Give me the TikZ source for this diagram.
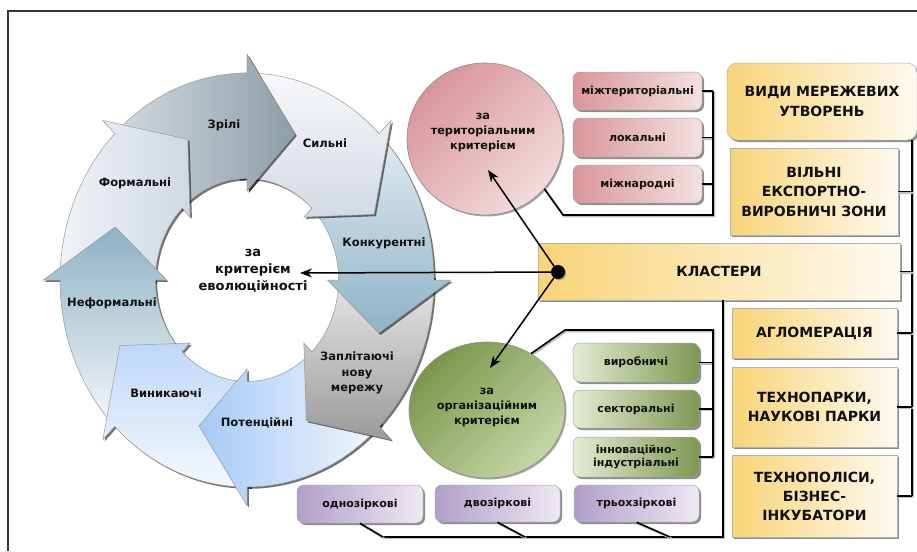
\documentclass[tikz,border=0pt]{standalone}
\usepackage{fontspec}
\setmainfont{DejaVu Sans}
\usetikzlibrary{shadows,arrows.meta,calc,shapes.geometric}
\definecolor{pinkD}{HTML}{D9969A}
\definecolor{pinkL}{HTML}{F4E0E0}
\definecolor{grnD}{HTML}{7E9752}
\definecolor{grnL}{HTML}{E4ECD3}
\definecolor{purD}{HTML}{B29EC8}
\definecolor{purL}{HTML}{EDE9F3}
\definecolor{yelD}{HTML}{F8D478}
\definecolor{yelL}{HTML}{FEFAF0}
\definecolor{txt}{HTML}{111111}
\definecolor{zriA}{HTML}{D3DAE0}
\definecolor{zriB}{HTML}{8D9EA8}
\definecolor{sylA}{HTML}{F7F8FA}
\definecolor{sylB}{HTML}{D3DAE4}
\definecolor{konA}{HTML}{E3EDF3}
\definecolor{konB}{HTML}{8FB2C6}
\definecolor{zapA}{HTML}{E8E8E8}
\definecolor{zapB}{HTML}{9A9A9A}
\definecolor{potA}{HTML}{A6CAF5}
\definecolor{potB}{HTML}{F3F8FE}
\definecolor{vynA}{HTML}{BED8F8}
\definecolor{vynB}{HTML}{F4F8FD}
\definecolor{nefA}{HTML}{8EB2C5}
\definecolor{nefB}{HTML}{F6F8FA}
\definecolor{forA}{HTML}{F0F3F7}
\definecolor{forB}{HTML}{D0D8E3}
\definecolor{terD}{HTML}{D8959A}
\definecolor{terL}{HTML}{F3DCDD}
\definecolor{orgD}{HTML}{7B974C}
\definecolor{orgL}{HTML}{C5D6A6}
\tikzset{
  boxshadow/.style={drop shadow={shadow xshift=2pt,shadow yshift=-2pt,fill=black!75,opacity=.6}},
  smallbox/.style={draw=black!35, line width=0.5pt, rounded corners=7pt, minimum width=#1, inner sep=1pt, align=center, boxshadow, font=\bfseries\fontsize{11}{13.5}\selectfont, text=txt},
  pinkbox/.style={smallbox=129pt, minimum height=38pt, left color=pinkD, right color=pinkL},
  grnbox/.style={smallbox=126pt, minimum height=38pt, left color=grnL, right color=grnD},
  purbox/.style={smallbox=125pt, minimum height=37pt, left color=purD, right color=purL},
  yelbox/.style={draw=black!30, line width=0.5pt, left color=yelD, right color=yelL, boxshadow, align=center, inner sep=0pt, font=\bfseries\fontsize{14}{19.5}\selectfont, text=txt},
  cyclbl/.style={font=\bfseries\fontsize{11.5}{15.5}\selectfont, text=txt, align=center, inner sep=0pt},
  ctext/.style={font=\bfseries\fontsize{11.3}{15}\selectfont, text=txt, align=center, inner sep=0pt},
  critc/.style={ellipse, draw=black!45, line width=0.6pt, inner sep=0pt, drop shadow={shadow xshift=1.5pt,shadow yshift=-1.5pt,fill=black!70,opacity=.5}},
  cyc/.style={draw=black!40, line width=0.5pt, drop shadow={shadow xshift=1.8pt,shadow yshift=-1.8pt,fill=black,opacity=.55}},
  conn/.style={draw=black, line width=1.6pt, preaction={draw=black!25, line width=2.2pt, transform canvas={xshift=1.2pt,yshift=-1.2pt}}},
  arr/.style={draw=black, line width=1.5pt, -{Stealth[length=12pt,width=9pt]}}
}
\newcommand\cycarrow[2]{%
  \pgfmathsetmacro\cycS{#1+46}%
  \pgfmathsetmacro\cycT{#1-20}%
  \path[#2] plot[domain=\cycS:#1,samples=30] ({247+187*cos(\x)},{280-207*sin(\x)})
    -- ({247+1.09*187*cos(#1)},{280-1.09*207*sin(#1)})
    -- ({247+0.75*187*cos(\cycT)},{280-0.75*207*sin(\cycT)})
    -- ({247+0.43*187*cos(#1)},{280-0.43*207*sin(#1)})
    -- plot[domain=#1:\cycS,samples=30] ({247+0.49*187*cos(\x)},{280-0.49*207*sin(\x)})
    -- cycle;}
\begin{document}
\begin{tikzpicture}[x=1pt,y=-1pt]
\useasboundingbox (0,0) rectangle (917,551);
\fill[white] (0,0) rectangle (917,551);
% frame
\draw[line width=1.4pt, black!80] (8,551) -- (8,11) -- (917,11);

% cycle of arrows
\cycarrow{90}{cyc, left color=zriA, right color=zriB}
\cycarrow{135}{cyc, left color=forA, right color=forB}
\cycarrow{180}{cyc, top color=nefA, bottom color=nefB}
\cycarrow{-135}{cyc, top color=vynA, bottom color=vynB}
\cycarrow{-90}{cyc, left color=potA, right color=potB}
\cycarrow{-45}{cyc, top color=zapA, bottom color=zapB}
\cycarrow{0}{cyc, top color=konA, bottom color=konB}
\cycarrow{45}{cyc, top color=sylA, bottom color=sylB}
\begin{scope}
  \clip (240,0) rectangle (330,300);
  \cycarrow{90}{cyc, left color=zriA, right color=zriB}
\end{scope}

% cycle labels
\node[cyclbl] (lzr) at (224,125) {Зрілі};
\node[cyclbl] (lsy) at (325,143) {Сильні};
\node[cyclbl] (lfo) at (135,183) {Формальні};
\node[cyclbl] (lko) at (384,243) {Конкурентні};
\node[cyclbl] (lne) at (112,303) {Неформальні};
\node[cyclbl] (lza) at (357,373) {Заплітаючі\\нову\\мережу};
\node[cyclbl] (lvy) at (166,393) {Виникаючі};
\node[cyclbl] (lpo) at (257,423) {Потенційні};
\node[font=\bfseries\fontsize{13}{17}\selectfont, text=txt, align=center, inner sep=0pt] (crit) at (253,271) {за\\критерієм\\еволюційності};

% criterion circles
\node[critc, minimum width=156pt, minimum height=152pt, top color=terD, bottom color=terL, shading angle=45] (terr) at (485,139) {};
\node[ctext] (terrt) at (483,133) {за\\територіальним\\критерієм};
\node[critc, minimum width=156pt, minimum height=136pt, top color=orgD, bottom color=orgL, shading angle=45] (org) at (487,410) {};
\node[ctext] (orgt) at (487,408) {за\\організаційним\\критерієм};

% pink boxes
\node[pinkbox] (p1) at (637.5,91) {міжтериторіальні};
\node[pinkbox, minimum height=39pt] (p2) at (637.5,137.5) {локальні};
\node[pinkbox] (p3) at (637.5,184) {міжнародні};
% green boxes
\node[grnbox, minimum height=39pt] (g1) at (636,362.5) {виробничі};
\node[grnbox] (g2) at (636,409) {секторальні};
\node[grnbox, minimum height=40pt] (g3) at (636,457) {інноваційно-\\індустріальні};
% purple boxes
\node[purbox, minimum width=126pt, minimum height=38pt] (s1) at (360,504) {однозіркові};
\node[purbox] (s2) at (497.5,503.5) {двозіркові};
\node[purbox] (s3) at (636.5,503.5) {трьохзіркові};

% yellow boxes
\node[yelbox, rounded corners=10pt, minimum width=190pt, minimum height=77pt] (y1) at (822,101.5) {ВИДИ МЕРЕЖЕВИХ\\УТВОРЕНЬ};
\node[yelbox, minimum width=168pt, minimum height=87pt] (y2) at (814,191.5) {ВІЛЬНІ\\ЕКСПОРТНО-\\ВИРОБНИЧІ ЗОНИ};
\node[yelbox, minimum width=362pt, minimum height=57pt] (kl) at (719,271.5) {КЛАСТЕРИ};
\node[yelbox, minimum width=165pt, minimum height=50pt] (y3) at (814.5,333) {АГЛОМЕРАЦІЯ};
\node[yelbox, minimum width=165pt, minimum height=80pt] (y4) at (814.5,407) {ТЕХНОПАРКИ,\\НАУКОВІ ПАРКИ};
\node[yelbox, minimum width=165pt, minimum height=82pt, font=\bfseries\fontsize{14}{19}\selectfont] (y5) at (814.5,496) {ТЕХНОПОЛІСИ,\\БІЗНЕС-\\ІНКУБАТОРИ};

% bracket coordinates
\coordinate (pbt) at (713,91);
\coordinate (pbb) at (713,215);
\coordinate (pbl) at (563,215);
\coordinate (gbt) at (713,330);
\coordinate (gbl) at (565,330);
\coordinate (rtop) at (912,140);
\coordinate (rbot) at (912,496);
\coordinate (sv) at (723,537);
\coordinate (sl) at (383,537);
\coordinate (s2e) at (525,537);
\coordinate (s3e) at (670,537);

% pink bracket
\draw[conn] (p1.east) -- (p1.east -| pbt);
\draw[conn] (p2.east) -- (p2.east -| pbt);
\draw[conn] (p3.east) -- (p3.east -| pbt);
\draw[conn] (pbt) -- (pbb) -- (pbl) -- (terr.-40);
% green bracket
\draw[conn] (g1.east) -- (g1.east -| gbt);
\draw[conn] (g2.east) -- (g2.east -| gbt);
\draw[conn] (g3.east) -- (g3.east -| gbt);
\draw[conn] (g3.east -| gbt) -- (gbt) -- (gbl) -- (org.52);
% right bracket
\draw[conn] (rtop) -- (rbot);
\draw[conn] (y2.east) -- (y2.east -| rtop);
\draw[conn] (kl.east) -- (kl.east -| rtop);
\draw[conn] (y3.east) -- (y3.east -| rtop);
\draw[conn] (y4.east) -- (y4.east -| rtop);
\draw[conn] (y5.east) -- (y5.east -| rtop);
% purple bracket
\draw[conn] (kl.south -| sv) -- (sv) -- (sl);
\draw[conn] (s1.south) -- (sl);
\draw[conn] (s2.south) -- (s2e);
\draw[conn] (s3.south) -- (s3e);

% hub and arrows
\node[circle, fill=black, minimum size=14pt, inner sep=0pt, drop shadow={shadow xshift=1.2pt,shadow yshift=-1.2pt,fill=black!60,opacity=.5}] (dot) at (558,272) {};
\coordinate (tev) at (300,273);
\coordinate (tter) at (488,170);
\coordinate (torg) at (490,368);
\draw[arr] (dot) -- (tev);
\draw[arr] (dot) -- (tter);
\draw[arr] (dot) -- (torg);
\end{tikzpicture}
\end{document}
